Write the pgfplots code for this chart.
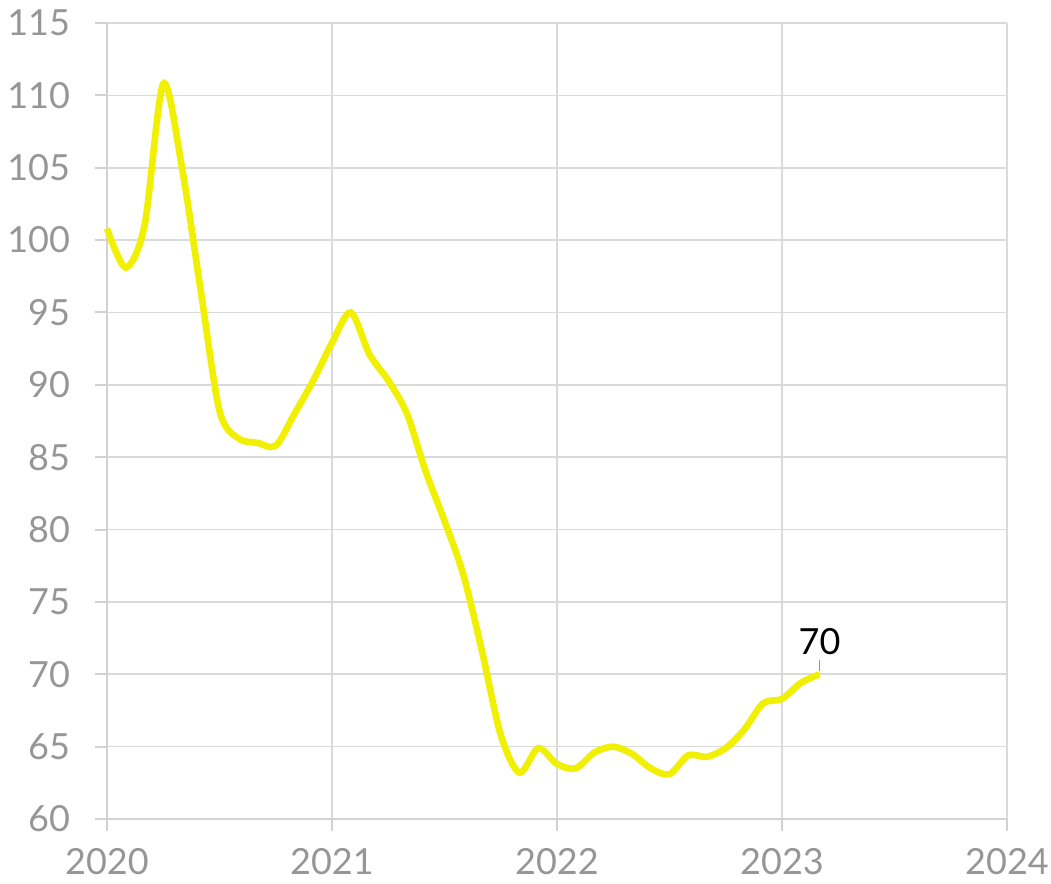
\documentclass[border=0pt]{standalone}
\usepackage{pgfplots}
\pgfplotsset{compat=1.18}
\usepackage{fontspec}
\setmainfont{Lato}
\definecolor{lineyellow}{RGB}{240,240,0}
\definecolor{gridgray}{RGB}{218,218,218}
\definecolor{axisgray}{RGB}{210,210,210}
\definecolor{labelgray}{RGB}{150,150,150}
\begin{document}
\begin{tikzpicture}
\useasboundingbox (-53.5pt,-32.5pt) rectangle (472pt,409.5pt);
\begin{axis}[
  at={(0,0)}, anchor=south west,
  scale only axis,
  width=450pt, height=398pt,
  xmin=0, xmax=48,
  ymin=60, ymax=115,
  xtick={0,12,24,36,48},
  ytick={60,65,...,115},
  xticklabels={2020,2021,2022,2023,2024},
  axis lines=left,
  axis line style={-, draw=axisgray, line width=1.2pt},
  grid=major,
  major grid style={draw=gridgray, line width=0.8pt},
  tick align=outside,
  major tick length=6pt,
  tick style={draw=axisgray, line width=1pt},
  every tick label/.append style={font=\fontsize{18}{20}\selectfont, text=labelgray},
  yticklabel style={xshift=-9pt},
  xticklabel style={yshift=-5pt},
  /pgf/number format/assume math mode=true,
  clip=false,
]
\addplot[lineyellow, line width=3.3pt, smooth, tension=0.5] coordinates {
(0,100.8)
(1,98.1)
(2,101.0)
(3,110.8)
(4,105.0)
(5,96.5)
(6,88.2)
(7,86.3)
(8,86.0)
(9,85.8)
(10,88.0)
(11,90.3)
(12,92.9)
(13,95.0)
(14,92.1)
(15,90.3)
(16,88.0)
(17,84.0)
(18,80.6)
(19,76.9)
(20,71.6)
(21,65.8)
(22,63.2)
(23,64.9)
(24,63.8)
(25,63.5)
(26,64.6)
(27,65.0)
(28,64.5)
(29,63.5)
(30,63.1)
(31,64.4)
(32,64.3)
(33,64.9)
(34,66.2)
(35,68.0)
(36,68.3)
(37,69.4)
(38,70.0)
};
\draw[labelgray, line width=0.6pt] (axis cs:38,70.2) -- (axis cs:38,71.0);
\node[anchor=south, inner sep=0pt, font=\fontsize{18}{20}\selectfont, text=black] at (axis cs:38,71.3) {70};
\end{axis}
\end{tikzpicture}
\end{document}
